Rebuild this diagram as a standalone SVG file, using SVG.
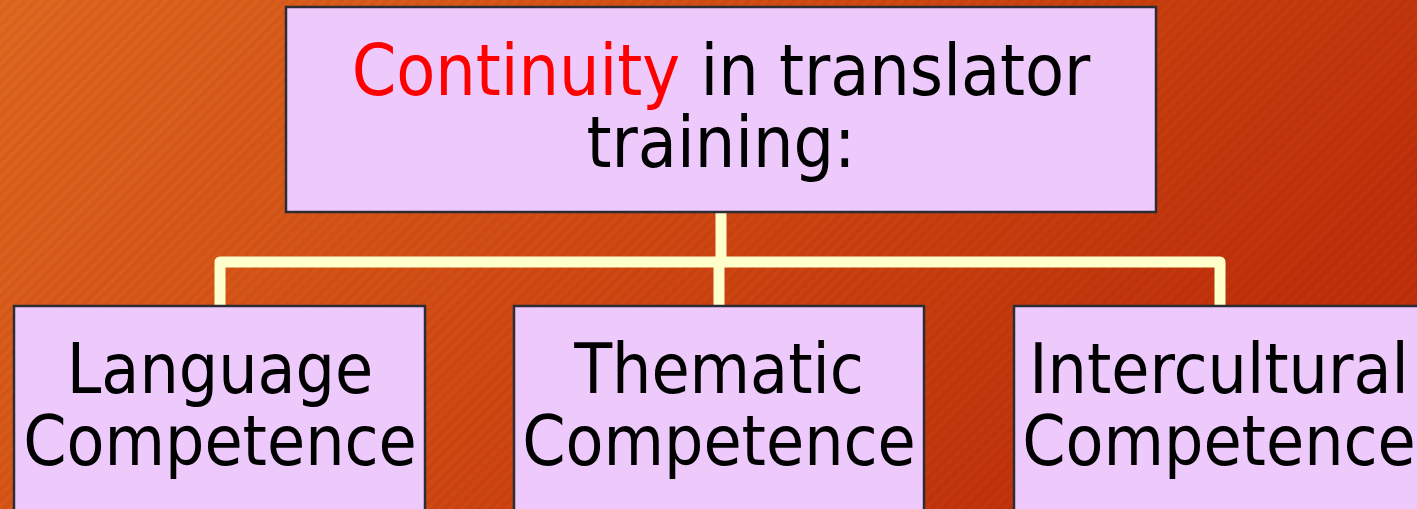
<svg xmlns="http://www.w3.org/2000/svg" width="1417" height="509" viewBox="0 0 1417 509">
<defs>
<linearGradient id="bg" x1="0" y1="0" x2="1" y2="0.35">
<stop offset="0" stop-color="#e06820"/>
<stop offset="0.55" stop-color="#d04812"/>
<stop offset="1" stop-color="#c0300a"/>
</linearGradient>
<pattern id="hatch" width="8" height="8" patternUnits="userSpaceOnUse" patternTransform="rotate(45)">
<rect x="0" y="0" width="4" height="8" fill="#000" fill-opacity="0.04"/>
</pattern>
<style>
.box{fill:#eecafc;stroke:#2c2c34;stroke-width:2.5}
.t{font-family:'DejaVu Sans Condensed','DejaVu Sans',sans-serif;font-stretch:condensed;fill:#000;text-anchor:middle}
.conn{fill:none;stroke:#ffffcc;stroke-width:11;stroke-linejoin:round;stroke-linecap:butt}
</style>
</defs>
<rect width="1417" height="509" fill="url(#bg)"/>
<rect width="1417" height="509" fill="url(#hatch)"/>
<g id="connectors">
<path class="conn" d="M721 212 V262"/>
<path class="conn" d="M220 305 V262 H1220 V305"/>
<path class="conn" d="M719 262 V305"/>
</g>
<g id="node-top">
<rect class="box" x="286" y="7" width="870" height="205"/>
<text class="t" font-size="71" x="721" y="95"><tspan fill="#ff0000">Continuity</tspan> in translator</text>
<text class="t" font-size="71" x="721" y="167">training:</text>
</g>
<g id="node-language">
<rect class="box" x="14" y="306" width="411" height="210"/>
<text class="t" font-size="69" x="220" y="393">Language</text>
<text class="t" font-size="69" x="220" y="465">Competence</text>
</g>
<g id="node-thematic">
<rect class="box" x="514" y="306" width="410" height="210"/>
<text class="t" font-size="69" x="719" y="393">Thematic</text>
<text class="t" font-size="69" x="719" y="465">Competence</text>
</g>
<g id="node-intercultural">
<rect class="box" x="1014" y="306" width="420" height="210"/>
<text class="t" font-size="69" x="1219" y="393">Intercultural</text>
<text class="t" font-size="69" x="1219" y="465">Competence</text>
</g>
</svg>
